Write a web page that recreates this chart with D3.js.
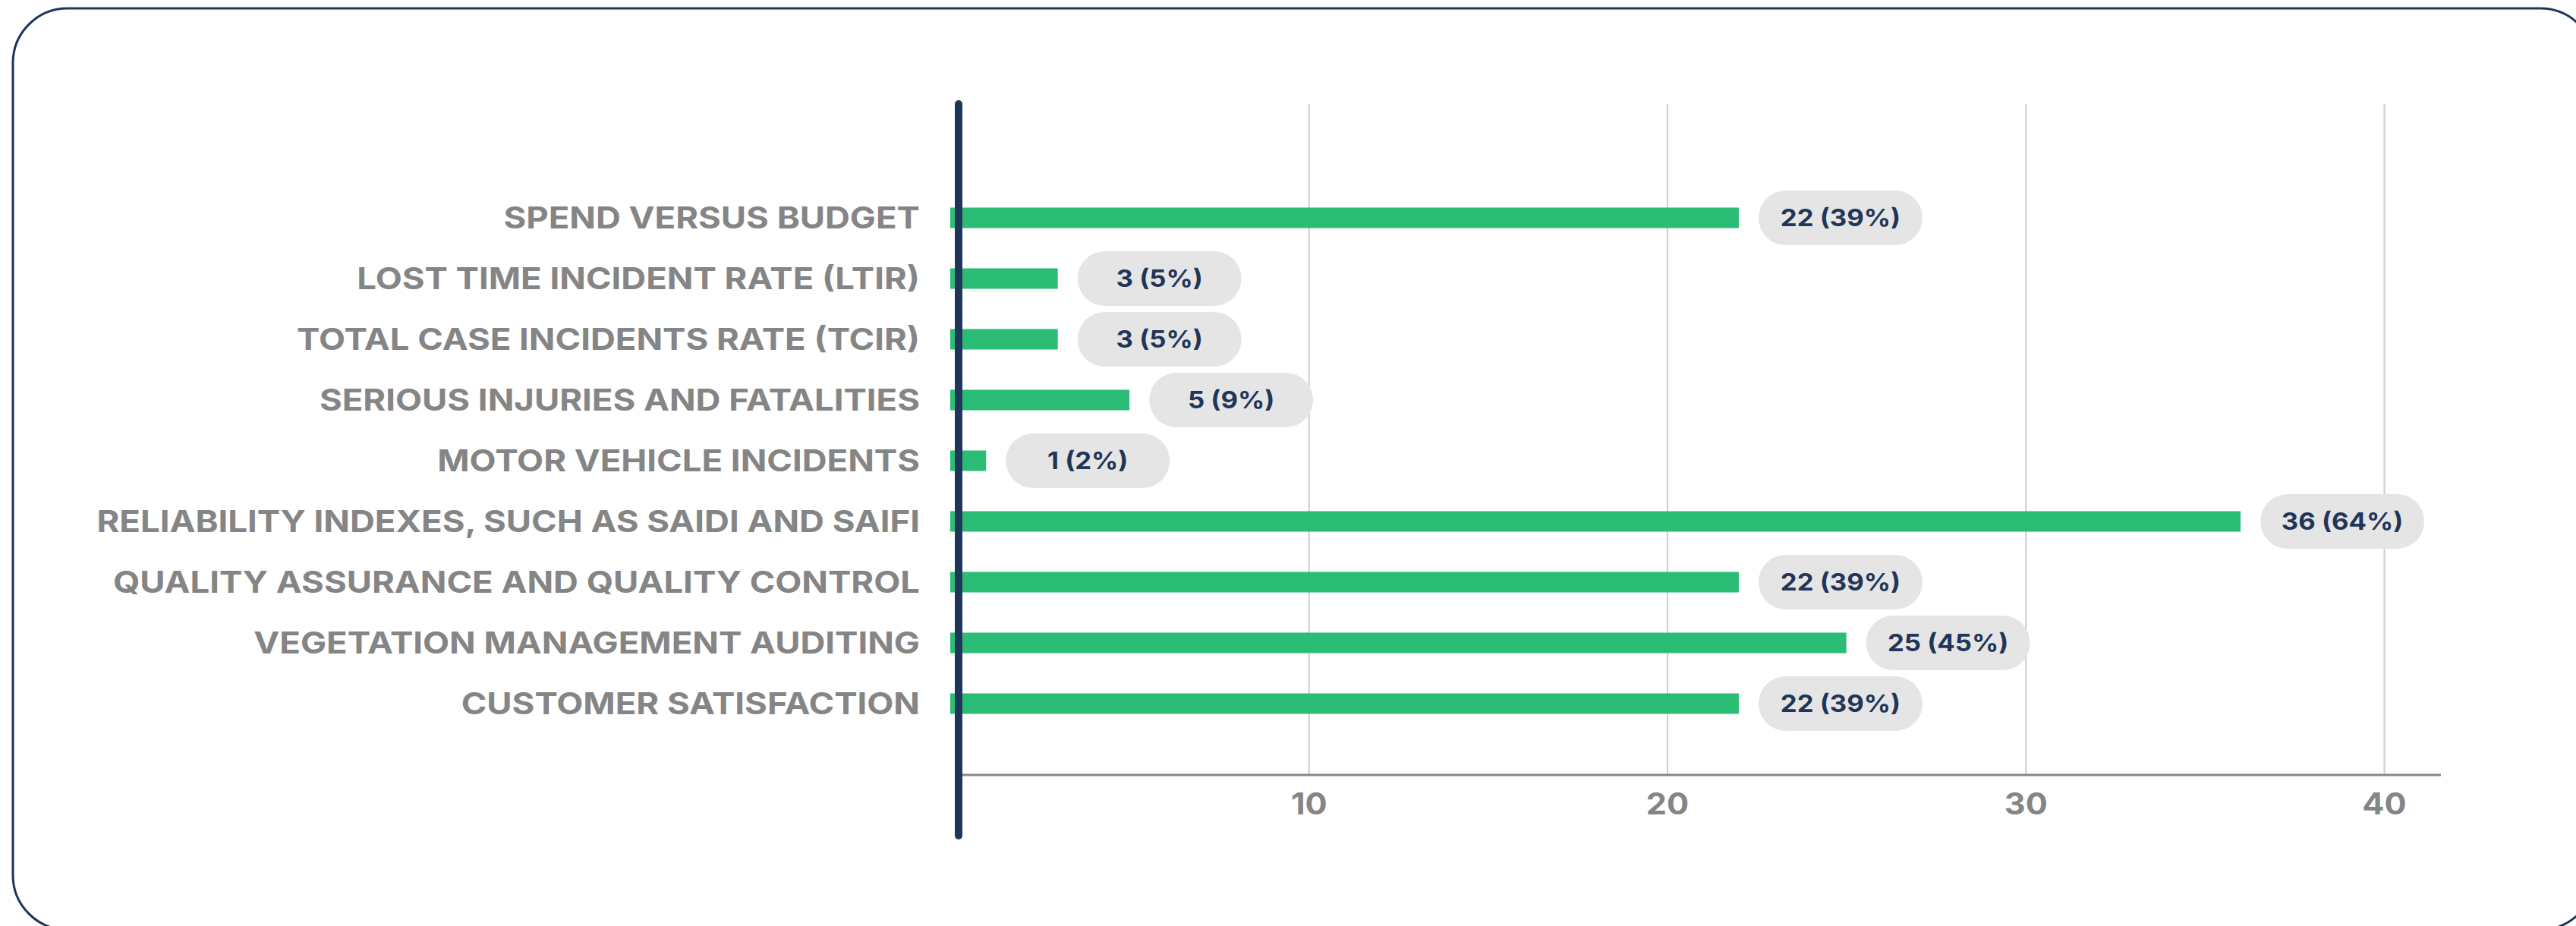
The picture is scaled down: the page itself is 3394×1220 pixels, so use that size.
<!DOCTYPE html>
<html>
<head>
<meta charset="utf-8">
<script src="https://cdn.jsdelivr.net/npm/d3@7"></script>
<style>
  html, body { margin: 0; padding: 0; background: #ffffff; }
  svg { display: block; font-family: Inter, 'Open Sans', sans-serif; }
</style>
</head>
<body>
<svg width="3394" height="1220"></svg>
<script>
'use strict'

// data
const categories = [
    'SPEND VERSUS BUDGET',
    'LOST TIME INCIDENT RATE (LTIR)',
    'TOTAL CASE INCIDENTS RATE (TCIR)',
    'SERIOUS INJURIES AND FATALITIES',
    'MOTOR VEHICLE INCIDENTS',
    'RELIABILITY INDEXES, SUCH AS SAIDI AND SAIFI',
    'QUALITY ASSURANCE AND QUALITY CONTROL',
    'VEGETATION MANAGEMENT AUDITING',
    'CUSTOMER SATISFACTION'
];
const counts = [22, 3, 3, 5, 1, 36, 22, 25, 22];
const percents = [39, 5, 5, 9, 2, 64, 39, 45, 39];
const tickValues = [10, 20, 30, 40];

const rows = categories.map(function(c, i) {
    return { name: c, value: counts[i], pct: percents[i] };
});

let svg = d3.select('svg'),
    width = +svg.attr('width'),
    height = +svg.attr('height');

const navy = '#1f3658',
    green = '#2bbd76',
    grey = '#858585';

// the original face is wider than Inter, so stretch text a bit
function widen(sel, k) {
    sel.each(function() {
        let len = this.getComputedTextLength();
        d3.select(this)
            .attr('textLength', len * k)
            .attr('lengthAdjust', 'spacingAndGlyphs');
    });
}

// frame
svg.append('rect')
    .attr('x', 17)
    .attr('y', 11)
    .attr('width', 3402)
    .attr('height', 1214)
    .attr('rx', 72)
    .attr('fill', 'none')
    .attr('stroke', navy)
    .attr('stroke-width', 3);

let x = d3.scaleLinear()
    .domain([0, 40])
    .range([1252, 3141]);

let y = d3.scaleBand()
    .domain(categories)
    .range([247, 967])
    .paddingInner(0.6625)
    .paddingOuter(0.33125);

const axisY = 1021,
    gridTop = 137;

// gridlines + tick labels
let xAxis = svg.append('g')
    .attr('transform', 'translate(0,' + axisY + ')')
    .call(d3.axisBottom(x)
        .tickValues(tickValues)
        .tickSize(-(axisY - gridTop))
        .tickPadding(24));

xAxis.select('.domain').remove();
xAxis.selectAll('.tick line')
    .attr('stroke', '#cccccc')
    .attr('stroke-width', 2);
xAxis.selectAll('.tick text')
    .attr('fill', grey)
    .style('font-size', '40px')
    .style('font-weight', 700)
    .style('font-family', 'Inter, sans-serif')
    .call(widen, 1.08);

// baseline
svg.append('line')
    .attr('x1', 1263)
    .attr('x2', 3216)
    .attr('y1', axisY)
    .attr('y2', axisY)
    .attr('stroke', '#888888')
    .attr('stroke-width', 3);

// bars
svg.append('g')
    .selectAll('rect')
    .data(rows)
    .enter().append('rect')
    .attr('x', x(0))
    .attr('y', function(d) {
        return y(d.name);
    })
    .attr('width', function(d) {
        return x(d.value) - x(0);
    })
    .attr('height', y.bandwidth())
    .attr('fill', green);

// vertical axis bar
svg.append('line')
    .attr('x1', 1263)
    .attr('x2', 1263)
    .attr('y1', 137)
    .attr('y2', 1101)
    .attr('stroke', navy)
    .attr('stroke-width', 10)
    .attr('stroke-linecap', 'round');

// category labels
svg.append('g')
    .selectAll('text')
    .data(rows)
    .enter().append('text')
    .attr('x', 1212)
    .attr('y', function(d) {
        return y(d.name) + y.bandwidth() / 2;
    })
    .attr('dy', '0.36em')
    .attr('text-anchor', 'end')
    .attr('fill', grey)
    .style('font-size', '40px')
    .style('font-weight', 700)
    .text(function(d) {
        return d.name;
    })
    .call(widen, 1.137);

// value pills
let pill = svg.append('g')
    .selectAll('g')
    .data(rows)
    .enter().append('g')
    .attr('transform', function(d) {
        return 'translate(' + (x(d.value) + 26) + ',' + (y(d.name) + y.bandwidth() / 2) + ')';
    });

pill.append('rect')
    .attr('x', 0)
    .attr('y', -36)
    .attr('width', 216)
    .attr('height', 72)
    .attr('rx', 36)
    .attr('fill', '#e5e5e5');

pill.append('text')
    .attr('x', 108)
    .attr('dy', '0.36em')
    .attr('text-anchor', 'middle')
    .attr('fill', navy)
    .style('font-size', '31px')
    .style('font-weight', 700)
    .text(function(d) {
        return d.value + ' (' + d.pct + '%)';
    })
    .call(widen, 1.12);
</script>
</body>
</html>
